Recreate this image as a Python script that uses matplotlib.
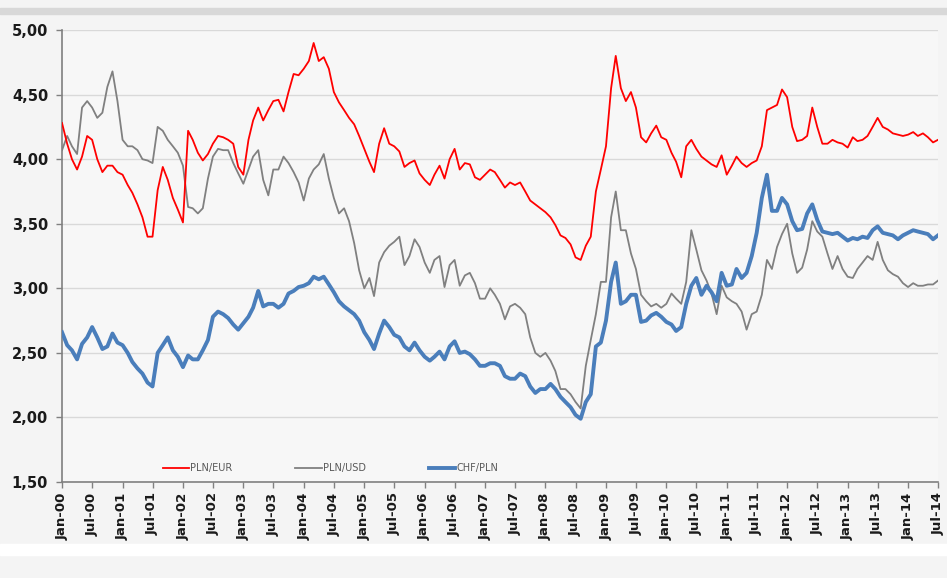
import numpy as np
import pandas as pd
import matplotlib
matplotlib.use('Agg')
import matplotlib.pyplot as plt
import matplotlib.dates as mdates
from matplotlib.patches import Rectangle

# monthly values, Jan-2000 .. Jul-2014
pln_eur = [4.28, 4.12, 4.00, 3.92, 4.02, 4.18, 4.15, 4.00, 3.90, 3.95, 3.95, 3.90,
           3.88, 3.80, 3.74, 3.65, 3.55, 3.40, 3.40, 3.76, 3.94, 3.84, 3.70, 3.61,
           3.51, 4.22, 4.15, 4.05, 3.99, 4.04, 4.12, 4.18, 4.17, 4.15, 4.12, 3.94,
           3.88, 4.15, 4.30, 4.40, 4.30, 4.38, 4.45, 4.46, 4.37, 4.52, 4.66, 4.65,
           4.70, 4.76, 4.90, 4.76, 4.79, 4.70, 4.52, 4.44, 4.38, 4.32, 4.27, 4.18,
           4.08, 3.98, 3.90, 4.12, 4.24, 4.12, 4.10, 4.06, 3.94, 3.97, 3.99, 3.89,
           3.84, 3.80, 3.88, 3.95, 3.85, 4.00, 4.08, 3.92, 3.97, 3.96, 3.86, 3.84,
           3.88, 3.92, 3.90, 3.84, 3.78, 3.82, 3.80, 3.82, 3.75, 3.68, 3.65, 3.62,
           3.59, 3.55, 3.49, 3.41, 3.39, 3.34, 3.24, 3.22, 3.33, 3.40, 3.75, 3.92,
           4.10, 4.55, 4.80, 4.55, 4.45, 4.52, 4.40, 4.17, 4.13, 4.20, 4.26, 4.17,
           4.15, 4.05, 3.98, 3.86, 4.10, 4.15, 4.08, 4.02, 3.99, 3.96, 3.94, 4.03,
           3.88, 3.95, 4.02, 3.97, 3.94, 3.97, 3.99, 4.10, 4.38, 4.40, 4.42, 4.54,
           4.48, 4.25, 4.14, 4.15, 4.18, 4.40, 4.25, 4.12, 4.12, 4.15, 4.13, 4.12,
           4.09, 4.17, 4.14, 4.15, 4.18, 4.25, 4.32, 4.25, 4.23, 4.20, 4.19, 4.18,
           4.19, 4.21, 4.18, 4.20, 4.17, 4.13, 4.15]

pln_usd = [4.07, 4.18, 4.10, 4.04, 4.40, 4.45, 4.40, 4.32, 4.36, 4.56, 4.68, 4.45,
           4.15, 4.10, 4.10, 4.07, 4.00, 3.99, 3.97, 4.25, 4.22, 4.15, 4.10, 4.05,
           3.95, 3.63, 3.62, 3.58, 3.62, 3.85, 4.02, 4.08, 4.07, 4.07, 3.97, 3.89,
           3.81, 3.92, 4.02, 4.07, 3.84, 3.72, 3.92, 3.92, 4.02, 3.97, 3.90, 3.82,
           3.68, 3.85, 3.92, 3.96, 4.04, 3.85, 3.70, 3.58, 3.62, 3.52, 3.35, 3.14,
           3.00, 3.08, 2.94, 3.20, 3.28, 3.33, 3.36, 3.40, 3.18, 3.25, 3.38, 3.32,
           3.20, 3.12, 3.22, 3.25, 3.01, 3.18, 3.22, 3.02, 3.10, 3.12, 3.04, 2.92,
           2.92, 3.00, 2.95, 2.88, 2.76, 2.86, 2.88, 2.85, 2.80, 2.62, 2.50, 2.47,
           2.50, 2.44, 2.36, 2.22, 2.22, 2.18, 2.12, 2.07, 2.40, 2.60, 2.80, 3.05,
           3.05, 3.55, 3.75, 3.45, 3.45, 3.27, 3.15, 2.95, 2.90, 2.86, 2.88, 2.85,
           2.88, 2.96, 2.92, 2.88, 3.05, 3.45, 3.30, 3.14, 3.06, 2.96, 2.80, 3.02,
           2.93, 2.90, 2.88, 2.82, 2.68, 2.80, 2.82, 2.95, 3.22, 3.15, 3.32, 3.42,
           3.50, 3.27, 3.12, 3.16, 3.30, 3.52, 3.44, 3.40, 3.27, 3.15, 3.25, 3.15,
           3.09, 3.08, 3.15, 3.20, 3.25, 3.22, 3.36, 3.22, 3.14, 3.11, 3.09, 3.04,
           3.01, 3.04, 3.02, 3.02, 3.03, 3.03, 3.06]

chf_pln = [2.66, 2.56, 2.52, 2.45, 2.57, 2.62, 2.70, 2.62, 2.53, 2.55, 2.65, 2.58,
           2.56, 2.50, 2.43, 2.38, 2.34, 2.27, 2.24, 2.50, 2.56, 2.62, 2.52, 2.47,
           2.39, 2.48, 2.45, 2.45, 2.52, 2.60, 2.78, 2.82, 2.80, 2.77, 2.72, 2.68,
           2.73, 2.78, 2.85, 2.98, 2.86, 2.88, 2.88, 2.85, 2.88, 2.96, 2.98, 3.01,
           3.02, 3.04, 3.09, 3.07, 3.09, 3.03, 2.97, 2.90, 2.86, 2.83, 2.80, 2.75,
           2.66, 2.60, 2.53, 2.65, 2.75, 2.70, 2.64, 2.62, 2.55, 2.52, 2.58, 2.52,
           2.47, 2.44, 2.47, 2.51, 2.45, 2.55, 2.59, 2.50, 2.51, 2.49, 2.45, 2.40,
           2.40, 2.42, 2.42, 2.40, 2.32, 2.30, 2.30, 2.34, 2.32, 2.24, 2.19, 2.22,
           2.22, 2.26, 2.22, 2.16, 2.12, 2.08, 2.02, 1.99, 2.12, 2.18, 2.55, 2.58,
           2.75, 3.05, 3.20, 2.88, 2.90, 2.95, 2.95, 2.74, 2.75, 2.79, 2.81, 2.78,
           2.74, 2.72, 2.67, 2.70, 2.88, 3.02, 3.08, 2.95, 3.02, 2.97, 2.90, 3.12,
           3.02, 3.03, 3.15, 3.08, 3.12, 3.25, 3.43, 3.70, 3.88, 3.60, 3.60, 3.70,
           3.65, 3.52, 3.45, 3.46, 3.58, 3.65, 3.53, 3.44, 3.43, 3.42, 3.43, 3.40,
           3.37, 3.39, 3.38, 3.40, 3.39, 3.45, 3.48, 3.43, 3.42, 3.41, 3.38, 3.41,
           3.43, 3.45, 3.44, 3.43, 3.42, 3.38, 3.41]

dates = pd.date_range('2000-01-01', periods=len(pln_eur), freq='MS')
y_ticks = [1.5, 2.0, 2.5, 3.0, 3.5, 4.0, 4.5, 5.0]

fig = plt.figure(figsize=(9.47, 5.78), dpi=100, facecolor='#f4f4f4')
# top grey strip and bottom white strip of the slide
fig.patches.append(Rectangle((0, 0.975), 1, 0.012, transform=fig.transFigure,
                             color='#d8d8d8', zorder=0))
fig.patches.append(Rectangle((0, 0.04), 1, 0.018, transform=fig.transFigure,
                             color='#ffffff', zorder=0))

ax = fig.add_axes([0.0655, 0.166, 0.925, 0.782])
ax.set_facecolor('#f7f7f7')

ax.plot(dates, pln_eur, color='#ff0000', lw=1.3, label='PLN/EUR', zorder=3)
ax.plot(dates, pln_usd, color='#808080', lw=1.3, label='PLN/USD', zorder=2)
ax.plot(dates, chf_pln, color='#4a7ebb', lw=2.8, label='CHF/PLN', zorder=4)

ax.set_ylim(1.5, 5.0)
ax.set_yticks(y_ticks)
ax.set_yticklabels([f'{v:.2f}'.replace('.', ',') for v in y_ticks],
                   fontsize=10.5, fontweight='bold', color='#1a1a1a')
ax.grid(axis='y', color='#d9d9d9', lw=1)
ax.set_axisbelow(True)

ax.set_xlim(dates[0], dates[-1])
ax.xaxis.set_major_locator(mdates.MonthLocator(bymonth=[1, 7]))
ax.xaxis.set_major_formatter(mdates.DateFormatter('%b-%y'))
plt.setp(ax.get_xticklabels(), rotation=90, fontsize=9.5, fontweight='bold',
         color='#1a1a1a')

for s in ['top', 'right']:
    ax.spines[s].set_visible(False)
for s in ['left', 'bottom']:
    ax.spines[s].set_color('#808080')
    ax.spines[s].set_linewidth(1.2)
ax.tick_params(axis='both', direction='out', length=4, color='#808080', width=1)
ax.tick_params(axis='y', pad=6)

leg = ax.legend(loc='lower left', bbox_to_anchor=(0.105, 0.0), ncol=3, frameon=False,
                fontsize=7, handlelength=2.7, columnspacing=6.5, handletextpad=0.1)
for t in leg.get_texts():
    t.set_color('#595959')

fig.savefig('out.png', dpi=100, facecolor=fig.get_facecolor())
